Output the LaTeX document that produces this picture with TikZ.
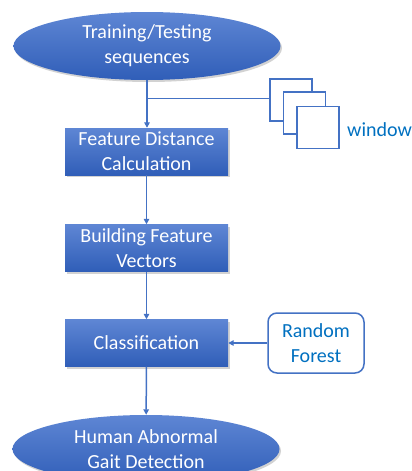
\documentclass[tikz,border=0pt]{standalone}
\usepackage{fontspec}
\setmainfont{Carlito}
\usetikzlibrary{shapes.geometric,arrows.meta,shadows}
\definecolor{shadetop}{RGB}{94,134,212}
\definecolor{shadebot}{RGB}{48,94,184}
\definecolor{linkblue}{RGB}{68,114,196}
\definecolor{textblue}{RGB}{0,112,192}
\tikzset{
  blueshape/.style={top color=shadetop, bottom color=shadebot, draw=none,
    text=white, align=center, inner sep=0pt,
    font=\fontsize{20}{25}\selectfont,
    drop shadow={shadow xshift=1.5pt, shadow yshift=-2pt, opacity=0.25, fill=black!70}},
  oval/.style={blueshape, ellipse, minimum width=267pt, minimum height=68pt},
  stepbox/.style={blueshape, rectangle, minimum width=163pt, minimum height=47pt},
  sidebox/.style={draw=linkblue, line width=1.5pt, fill=white, rounded corners=9pt,
    text=textblue, align=center, inner sep=0pt, minimum width=96pt, minimum height=60pt,
    font=\fontsize{20}{25}\selectfont},
  winsq/.style={draw=linkblue, line width=1.5pt, fill=white, minimum size=42pt, inner sep=0pt},
  link/.style={draw=linkblue, line width=1.5pt},
  arrow/.style={link, -{Triangle[length=5.5pt,width=5.5pt]}}
}
\begin{document}
\begin{tikzpicture}[x=1pt,y=-1pt]
\useasboundingbox (0,0) rectangle (412,471);
\clip (0,0) rectangle (412,471);
% flow nodes
\node[oval] (src) at (147,46) {Training/Testing\\sequences};
\node[stepbox] (fdc) at (146.5,151.5) {Feature Distance\\Calculation};
\node[stepbox] (bfv) at (146.5,248) {Building Feature\\Vectors};
\node[stepbox] (cls) at (146.5,343) {Classification};
\node[oval] (out) at (146,449) {Human Abnormal\\Gait Detection};
\node[sidebox] (rf) at (316,343) {Random\\Forest};
% sliding window stack
\node[winsq] (w1) at (291,100) {};
\node[winsq] (w2) at (304.5,113) {};
\node[winsq] (w3) at (318,127.5) {};
\node[text=textblue, font=\fontsize{20}{24}\selectfont, anchor=west, inner sep=0pt] (wl) at (347,130) {window};
% connectors
\coordinate (split) at (147,98.5);
\draw[link] (src.south) -- (split);
\draw[link] (split) -- (w1.west |- split);
\draw[arrow] (split) -- (fdc.north -| split);
\draw[arrow] (fdc) -- (bfv);
\draw[arrow] (bfv) -- (cls);
\draw[arrow] (cls) -- (out);
\draw[arrow] (rf) -- (cls);
\end{tikzpicture}
\end{document}
